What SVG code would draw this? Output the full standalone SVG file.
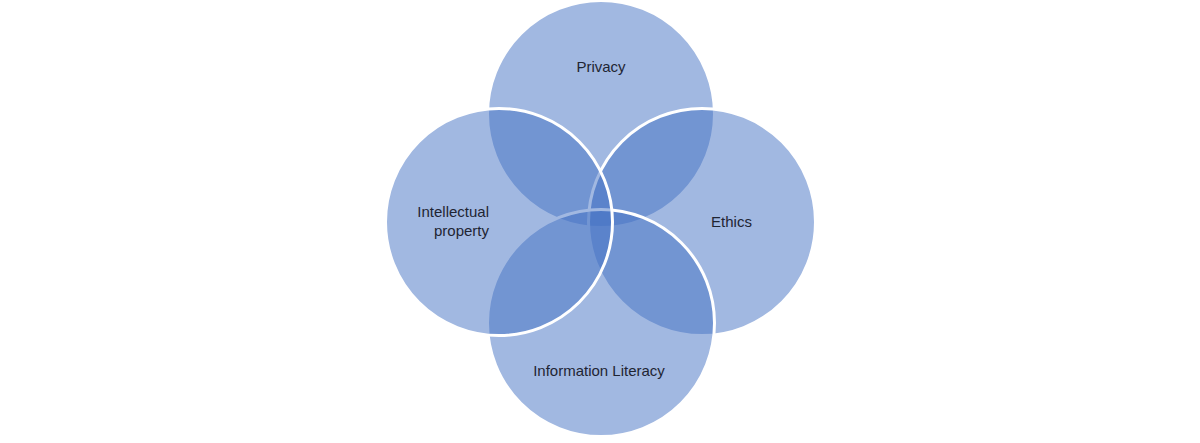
<svg xmlns="http://www.w3.org/2000/svg" width="1200" height="443" viewBox="0 0 1200 443">
  <style>
    .c { fill: #4472C4; fill-opacity: 0.5; stroke: #FFFFFF; stroke-width: 3; }
    .t { font-family: "Liberation Sans", Arial, sans-serif; font-size: 15px; fill: #1f2533; }
  </style>
  <rect width="1200" height="443" fill="#FFFFFF"/>
  <g id="connectors"></g>
  <g id="node-privacy">
    <circle class="c" cx="601" cy="114" r="113.5"/>
  </g>
  <g id="node-ethics">
    <circle class="c" cx="702" cy="222" r="113.5"/>
  </g>
  <g id="node-information-literacy">
    <circle class="c" cx="601" cy="323" r="113.5"/>
  </g>
  <g id="node-intellectual-property">
    <circle class="c" cx="499" cy="222" r="113.5"/>
  </g>
  <g id="labels">
    <text class="t" x="601" y="72" text-anchor="middle">Privacy</text>
    <text class="t" x="731.5" y="227" text-anchor="middle">Ethics</text>
    <text class="t" x="599" y="376" text-anchor="middle">Information Literacy</text>
    <text class="t" x="489" y="217" text-anchor="end">Intellectual</text>
    <text class="t" x="489" y="236" text-anchor="end">property</text>
  </g>
</svg>
